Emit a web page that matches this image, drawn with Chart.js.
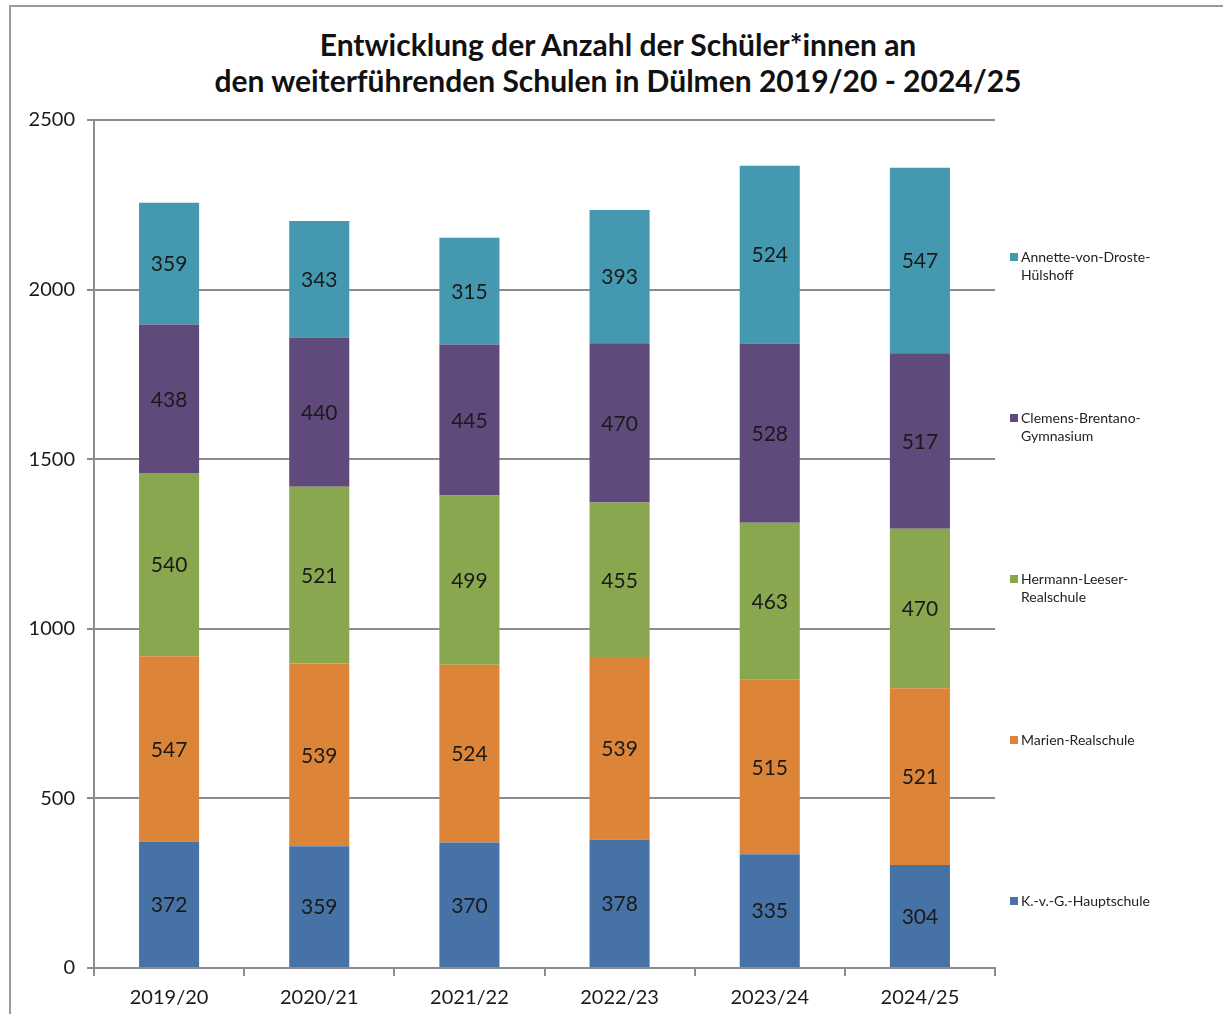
<!DOCTYPE html>
<html lang="de">
<head>
<meta charset="utf-8">
<title>Schüler*innen Dülmen</title>
<script src="https://cdn.jsdelivr.net/npm/chart.js@4.4.1/dist/chart.umd.min.js"></script>
<style>
  html, body { margin: 0; padding: 0; background: #fff; }
  body { width: 1223px; height: 1014px; position: relative; overflow: hidden; font-family: Lato, "Open Sans", sans-serif; }
  .frame { position: absolute; left: 9px; top: 5px; width: 1240px; height: 1040px; border: 2px solid #9a9a9a; box-sizing: border-box; }
  .title { position: absolute; left: 0; top: 26px; width: 1236px; text-align: center; font-weight: 700; font-size: 30px; line-height: 36px; color: #111; }
  #wrap { position: absolute; left: 0; top: 0; width: 1223px; height: 1014px; }
  .leg { position: absolute; left: 1010px; font-size: 14px; line-height: 18px; color: #222; }
  .leg i { position: absolute; left: 0; top: 5px; width: 8px; height: 8px; }
  .leg span { display: block; padding-left: 11px; }
</style>
</head>
<body>
<div class="frame"></div>
<div class="title">Entwicklung der Anzahl der Schüler*innen an<br>den weiterführenden Schulen in Dülmen 2019/20 - 2024/25</div>
<div id="wrap"><canvas id="chart" width="1223" height="1014"></canvas></div>
<div id="legend"></div>
<script>
(function () {
  'use strict';

  const years = ['2019/20', '2020/21', '2021/22', '2022/23', '2023/24', '2024/25'];
  // bottom to top, as stacked in the picture
  const schools = ['K.-v.-G.-Hauptschule', 'Marien-Realschule', 'Hermann-Leeser-Realschule', 'Clemens-Brentano-Gymnasium', 'Annette-von-Droste-Hülshoff'];
  const legendLines = [['K.-v.-G.-Hauptschule'], ['Marien-Realschule'], ['Hermann-Leeser-', 'Realschule'], ['Clemens-Brentano-', 'Gymnasium'], ['Annette-von-Droste-', 'Hülshoff']];
  const hauptschule = [372, 359, 370, 378, 335, 304];
  const marien = [547, 539, 524, 539, 515, 521];
  const leeser = [540, 521, 499, 455, 463, 470];
  const brentano = [438, 440, 445, 470, 528, 517];
  const droste = [359, 343, 315, 393, 524, 547];
  const yTicks = [0, 500, 1000, 1500, 2000, 2500];

  const series = [hauptschule, marien, leeser, brentano, droste];
  const colors = ['#4672a6', '#dc8539', '#88a74e', '#604a7b', '#4499b0'];
  const gridCol = '#8c8c8c';
  const font = 'Lato, "Open Sans", sans-serif';

  // segment value labels in the middle of each block
  const segLabels = {
    id: 'segLabels',
    afterDatasetsDraw(chart) {
      const ctx = chart.ctx;
      ctx.save();
      ctx.font = '21px ' + font;
      ctx.fillStyle = '#1a1a1a';
      ctx.textAlign = 'center';
      ctx.textBaseline = 'middle';
      chart.data.datasets.forEach((ds, di) => {
        chart.getDatasetMeta(di).data.forEach((bar, i) => {
          const mid = (bar.y + bar.base) / 2;
          ctx.fillText(String(ds.data[i]), bar.x, mid + 1);
        });
      });
      ctx.restore();
    }
  };

  new Chart(document.getElementById('chart'), {
    type: 'bar',
    data: {
      labels: years,
      datasets: series.map((d, i) => ({
        label: schools[i],
        data: d,
        backgroundColor: colors[i],
        borderWidth: 0,
        categoryPercentage: 1,
        barPercentage: 0.4
      }))
    },
    options: {
      responsive: false,
      animation: false,
      layout: { padding: { left: 0, right: 228, top: 120, bottom: 0 } },
      plugins: { legend: { display: false }, tooltip: { enabled: false }, title: { display: false } },
      scales: {
        x: {
          stacked: true,
          offset: true,
          afterFit: s => { s.height = 46; },
          border: { color: gridCol, width: 2 },
          grid: { offset: true, drawOnChartArea: false, drawTicks: true, tickLength: 8, color: gridCol, lineWidth: 2 },
          ticks: { color: '#1a1a1a', font: { family: font, size: 20 }, padding: 10 }
        },
        y: {
          stacked: true,
          min: 0,
          max: 2500,
          afterFit: s => { s.width = 94; },
          afterBuildTicks: s => { s.ticks = yTicks.map(v => ({ value: v })); },
          border: { color: gridCol, width: 2 },
          grid: { color: gridCol, lineWidth: 2, tickLength: 7 },
          ticks: { color: '#1a1a1a', font: { family: font, size: 20 }, padding: 12, callback: v => String(v) }
        }
      }
    },
    plugins: [segLabels]
  });

  // legend on the right, top entry = top of the stack
  const leg = document.getElementById('legend');
  for (let k = schools.length - 1, row = 0; k >= 0; k--, row++) {
    const el = document.createElement('div');
    el.className = 'leg';
    el.style.top = (248 + row * 161) + 'px';
    el.innerHTML = '<i style="background:' + colors[k] + '"></i>' + legendLines[k].map(t => '<span>' + t + '</span>').join('');
    leg.appendChild(el);
  }
})();
</script>
</body>
</html>
